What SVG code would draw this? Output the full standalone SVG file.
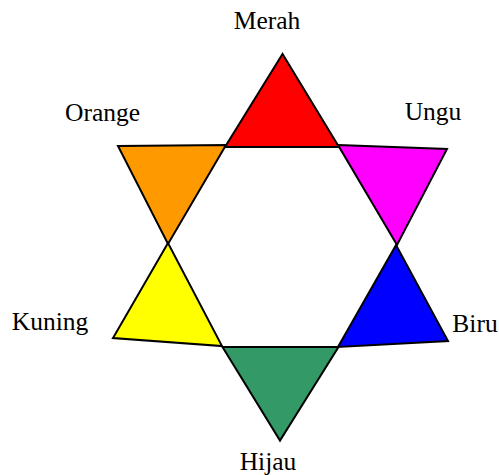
<svg xmlns="http://www.w3.org/2000/svg" width="499" height="475" viewBox="0 0 499 475">
<style>
.t{stroke:#000;stroke-width:2;stroke-linejoin:miter}
.l{font-family:"Liberation Serif",serif;font-size:25.5px;fill:#000;text-anchor:middle}
</style>
<rect width="499" height="475" fill="#fff"/>
<g id="merah"><polygon class="t" fill="#ff0000" points="282.5,54 225,147 339,147"/><text class="l" x="267" y="29">Merah</text></g>
<g id="orange"><polygon class="t" fill="#ff9900" points="118,146 226,145 168,244"/><text class="l" x="102.5" y="121">Orange</text></g>
<g id="ungu"><polygon class="t" fill="#ff00ff" points="338,145 447,149 397,245"/><text class="l" x="433" y="120">Ungu</text></g>
<g id="kuning"><polygon class="t" fill="#ffff00" points="168,243 113,338 222,346"/><text class="l" x="50" y="330">Kuning</text></g>
<g id="biru"><polygon class="t" fill="#0000ff" points="396,245 448,341 338,347"/><text class="l" x="475" y="331.5">Biru</text></g>
<g id="hijau"><polygon class="t" fill="#339966" points="222.5,347 338.5,347 280,440.5"/><text class="l" x="268" y="470">Hijau</text></g>
<g id="connectors"/>
</svg>
